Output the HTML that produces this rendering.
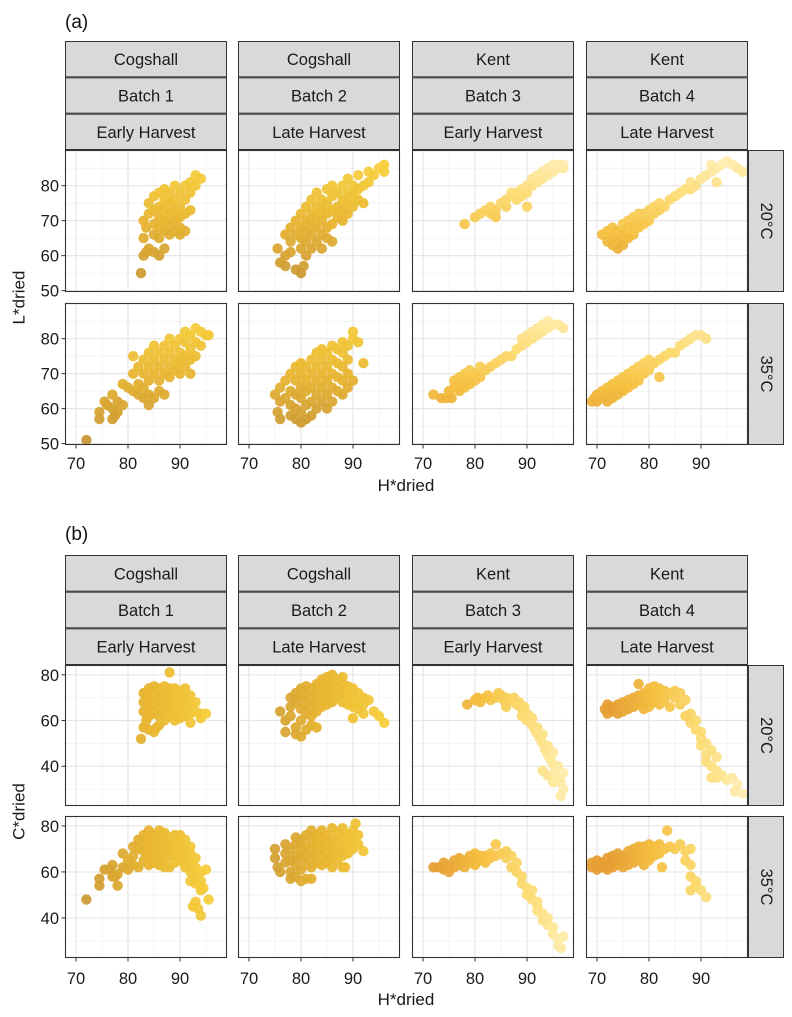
<!DOCTYPE html>
<html><head><meta charset="utf-8">
<style>
html,body{margin:0;padding:0;background:#fff;}
svg{display:block;font-family:"Liberation Sans",Arial,sans-serif;}
</style></head>
<body>
<svg id="chart" width="792" height="1017" viewBox="0 0 792 1017" xmlns="http://www.w3.org/2000/svg"></svg>
<script>
// ---------- data ----------
const cultivars = ["Cogshall","Cogshall","Kent","Kent"];
const batches = ["Batch 1","Batch 2","Batch 3","Batch 4"];
const harvests = ["Early Harvest","Late Harvest","Early Harvest","Late Harvest"];
const temps = ["20°C","35°C"];
const xTicks = [70,80,90];
const xMinor = [75,85,95];
const lTicks = [50,60,70,80];
const lMajorGrid = [50,60,70,80,90];
const lMinor = [55,65,75,85];
const cTicks = [40,60,80];
const cMinor = [30,50,70];

// (a) L*dried vs H*dried, 20°C
const a20_1 = [[82.5,55],[83,60],[83.5,61],[84,62],[85,61],[86,60],[87,62],[83,65],[83.5,68],[83,70],[84,72],[84,75],[85,66],[85,69],[85,73],[85,77],[86,65],[86,68],[86,71],[86,74],[86,78],[87,67],[87,70],[87,73],[87,76],[87,79],[88,66],[88,69],[88,72],[88,75],[88,78],[89,67],[89,70],[89,73],[89,76],[89,80],[90,66],[90,68],[90,71],[90,74],[90,78],[91,67],[91,72],[91,76],[91,80],[92,73],[92,78],[92,81],[93,80],[93,83],[94,82]];
const a20_2 = [[75.5,62],[76,58],[77,57],[77,60],[78,61],[79,56],[80,55],[80.5,57],[78,64],[77,66],[78,68],[79,66],[79,70],[80,62],[80,65],[80,68],[80,72],[81,60],[81,64],[81,67],[81,70],[81,74],[82,62],[82,66],[82,69],[82,72],[82,76],[83,64],[83,68],[83,71],[83,74],[83,78],[84,66],[84,70],[84,73],[84,76],[85,65],[85,68],[85,72],[85,75],[85,79],[86,69],[86,73],[86,77],[86,80],[87,71],[87,74],[87,78],[88,70],[88,73],[88,76],[88,80],[89,72],[89,75],[89,78],[89,82],[90,74],[90,77],[90,80],[91,76],[91,79],[91,83],[92,75],[92,80],[93,81],[93,84],[94,83],[95,85],[96,86],[96,84],[84,62],[86,64]];
const a20_3 = [[78,69],[80,71],[81,72],[82,73],[83,72],[83,74],[84,71],[84,73],[85,75],[86,74],[86,76],[87,77],[88,78],[88,76],[89,79],[90,78],[90,80],[90,74],[91,80],[91,82],[92,81],[92,83],[93,82],[93,84],[94,83],[94,85],[95,84],[95,86],[96,85],[96,86],[97,85],[97,86],[89,77],[87,78]];
const a20_4 = [[71,66],[72,64],[72,67],[73,63],[73,65],[73,68],[74,62],[74,64],[74,67],[75,63],[75,66],[75,69],[76,65],[76,68],[76,70],[77,66],[77,69],[77,71],[78,68],[78,70],[78,72],[79,69],[79,72],[80,70],[80,73],[81,72],[81,74],[82,73],[82,75],[83,74],[84,76],[85,77],[86,78],[87,79],[88,79],[88,81],[89,80],[90,82],[91,83],[92,84],[92,86],[93,85],[93,81],[94,86],[95,87],[96,86],[97,85],[98,84]];
// (a) 35°C
const a35_1 = [[72,51],[74.5,57],[74.5,59],[75.5,62],[76,61],[77,57],[77,60],[77.5,58],[78,59],[78,62],[79,61],[77,64],[79,67],[80,66],[81,65],[82,64],[82,67],[83,63],[83,66],[84,61],[84,64],[85,63],[86,65],[87,64],[81,70],[81,75],[82,72],[83,70],[83,74],[84,68],[84,72],[84,76],[85,70],[85,74],[85,78],[86,68],[86,72],[86,76],[87,70],[87,74],[87,78],[88,69],[88,72],[88,76],[88,80],[89,71],[89,74],[89,78],[90,70],[90,73],[90,76],[90,80],[91,72],[91,75],[91,79],[91,82],[92,74],[92,77],[92,81],[93,79],[93,83],[94,78],[94,82],[95,81],[95.5,81],[92,70],[93,75]];
const a35_2 = [[75,64],[75.5,59],[76,57],[76,62],[76,66],[77,63],[77,68],[78,58],[78,61],[78,65],[78,70],[79,57],[79,60],[79,64],[79,68],[79,72],[80,56],[80,59],[80,63],[80,66],[80,70],[80,73],[81,57],[81,61],[81,65],[81,68],[81,72],[82,58],[82,62],[82,66],[82,70],[82,74],[83,60],[83,64],[83,68],[83,72],[83,76],[84,62],[84,66],[84,70],[84,74],[84,77],[85,60],[85,64],[85,68],[85,72],[85,76],[86,62],[86,66],[86,70],[86,74],[86,78],[87,65],[87,69],[87,73],[87,77],[88,64],[88,68],[88,72],[88,76],[88,79],[89,66],[89,70],[89,74],[89,78],[90,82],[90,80],[91,79],[92,73],[90,68]];
const a35_3 = [[72,64],[73.5,63],[74.5,63],[75,65],[75.5,63],[76,66],[76,68],[77,65],[77,67],[77,69],[78,66],[78,68],[78,70],[79,67],[79,69],[79,71],[80,68],[80,70],[81,69],[81,72],[82,71],[83,72],[84,73],[85,74],[86,75],[87,75],[88,77],[89,78],[89,80],[90,79],[90,81],[91,80],[91,82],[92,81],[92,83],[93,82],[93,84],[94,83],[94,85],[95,84],[96,84],[97,83]];
const a35_4 = [[69,62],[69.5,63],[70,62],[70,64],[71,63],[71,65],[72,62],[72,64],[72,66],[73,63],[73,65],[73,67],[74,64],[74,66],[74,68],[75,65],[75,67],[75,69],[76,66],[76,68],[76,70],[77,67],[77,69],[77,71],[78,68],[78,70],[78,72],[79,70],[79,73],[80,71],[80,74],[81,73],[82,74],[83,75],[82,69],[84,76],[85,76],[86,78],[87,79],[88,80],[89,81],[90,81],[91,80]];
// (b) C*dried vs H*dried, 20°C
const b20_1 = [[82.5,52],[83,57],[83.5,60],[84,56],[85,55],[85.5,57],[86,58],[87,60],[83,64],[83,68],[83,72],[84,62],[84,66],[84,70],[84,74],[85,63],[85,67],[85,71],[85,75],[86,62],[86,66],[86,70],[86,74],[87,64],[87,68],[87,72],[87,75],[88,62],[88,66],[88,70],[88,74],[88,81],[89,63],[89,67],[89,71],[89,74],[90,61],[90,65],[90,69],[90,73],[91,62],[91,66],[91,70],[91,74],[92,63],[92,67],[92,71],[93,64],[93,68],[94,63],[94,61],[95,63],[92,59],[89,60]];
const b20_2 = [[76,64],[77,60],[77,55],[78,62],[79,57],[79,54],[80,53],[80,60],[81,56],[82,58],[83,57],[78,66],[78,70],[79,68],[79,72],[80,65],[80,70],[80,74],[81,63],[81,67],[81,71],[81,75],[82,62],[82,66],[82,70],[82,74],[83,64],[83,68],[83,72],[83,76],[84,66],[84,70],[84,74],[84,78],[85,67],[85,71],[85,75],[85,79],[86,68],[86,72],[86,76],[86,80],[87,70],[87,74],[87,78],[88,68],[88,72],[88,76],[88,79],[89,67],[89,71],[89,75],[90,66],[90,70],[90,74],[91,65],[91,68],[91,72],[92,67],[92,70],[93,69],[94,64],[95,62],[96,59],[92,63],[90,61]];
const b20_3 = [[78.5,67],[80,69],[80.5,70],[81,68],[82,70],[82.5,71],[83,69],[84,70],[84.5,72],[85,71],[85.5,69],[86,70],[86,66],[87,69],[87.5,70],[88,67],[88.5,68],[89,65],[89,62],[89.5,66],[90,63],[90,60],[90.5,62],[91,58],[91,61],[91.5,56],[92,54],[92,57],[92.5,52],[93,50],[93,54],[93.5,47],[94,49],[94,45],[94.5,43],[95,46],[95,41],[95.5,38],[93,38],[96,35],[96,40],[96.5,33],[97,37],[97,30],[96.5,27],[95,33],[94,36]];
const b20_4 = [[71.5,65],[72,63],[72,67],[73,64],[73,66],[74,63],[74,67],[75,64],[75,68],[76,65],[76,69],[77,66],[77,70],[78,67],[78,71],[78,76],[79,65],[79,68],[79,72],[80,66],[80,70],[80,74],[81,68],[81,72],[81,75],[82,67],[82,71],[82,74],[83,69],[83,73],[84,72],[84,66],[85,73],[85,70],[86,72],[86,67],[87,69],[87,62],[88,63],[88,59],[89,56],[89,60],[90,52],[90,55],[90,49],[91,45],[91,50],[91,42],[92,47],[92,40],[93,38],[93,44],[94,36],[95,34],[96,35],[97,32],[96.5,29],[98,28],[92,35],[93,35]];
// (b) 35°C
const b35_1 = [[72,48],[74.5,54],[74.5,57],[75.5,61],[76.5,61],[77,58],[77.5,58],[78,54],[78,59],[77,63],[79,62],[79,68],[80,65],[80,61],[81,63],[82,62],[81,67],[81,71],[82,70],[82,74],[83,65],[83,69],[83,73],[83,76],[84,63],[84,67],[84,71],[84,75],[84,78],[85,64],[85,68],[85,72],[85,76],[86,63],[86,66],[86,70],[86,74],[86,78],[87,62],[87,65],[87,69],[87,73],[87,77],[88,62],[88,67],[88,71],[88,75],[89,64],[89,68],[89,72],[89,76],[90,65],[90,69],[90,73],[90,76],[91,62],[91,66],[91,70],[91,74],[92,60],[92,64],[92,68],[92,71],[93,55],[93,58],[93,62],[93,66],[94,52],[94,56],[94,60],[92,56],[92.5,45],[93,47],[93.5,44],[94,41],[95,61],[95.5,48],[94.5,53]];
const b35_2 = [[75,66],[75,70],[75.5,62],[76,60],[77,64],[77,68],[77,72],[78,57],[78,60],[78,65],[78,70],[79,58],[79,63],[79,67],[79,72],[79,75],[80,56],[80,61],[80,66],[80,70],[80,74],[81,57],[81,63],[81,67],[81,71],[81,76],[82,57],[82,62],[82,66],[82,70],[82,74],[82,78],[83,64],[83,68],[83,72],[83,76],[84,63],[84,67],[84,71],[84,75],[84,78],[85,64],[85,68],[85,72],[85,76],[86,62],[86,66],[86,70],[86,74],[86,79],[87,65],[87,69],[87,73],[87,77],[88,62],[88,67],[88,71],[88,75],[88,79],[89,68],[89,72],[89,76],[90,70],[90,74],[90,78],[90.5,81],[91,72],[91,76],[92,69],[88.5,62]];
const b35_3 = [[72,62],[73,62],[74,61],[74,64],[75,63],[75,60],[76,62],[76,65],[77,63],[77,66],[78,62],[78,65],[79,64],[79,67],[80,63],[80,66],[80,68],[81,65],[81,67],[82,64],[82,67],[83,66],[83,68],[84,72],[84,67],[85,68],[86,66],[86,69],[87,67],[87,62],[88,64],[88,60],[89,58],[89,55],[90,53],[90,50],[91,48],[91,52],[92,45],[92,43],[93,42],[93,39],[94,40],[94,37],[95,36],[95,33],[96,31],[96,28],[97,32],[96.5,27],[92,47]];
const b35_4 = [[69,62],[69,64],[70,61],[70,65],[71,62],[71,64],[72,61],[72,63],[72,66],[73,62],[73,64],[73,67],[74,63],[74,65],[74,68],[75,62],[75,64],[75,67],[76,63],[76,66],[76,69],[77,64],[77,67],[77,70],[78,65],[78,68],[78,71],[79,63],[79,67],[79,71],[80,65],[80,69],[80,72],[81,67],[81,71],[82,68],[82,72],[82.5,62],[83,70],[83.5,78],[84,71],[85,70],[86,72],[87,69],[87,65],[88,63],[88,70],[88,58],[89,56],[88,52],[89,54],[90,52],[91,49]];

// ---------- layout ----------
const NS = "http://www.w3.org/2000/svg";
const svg = document.getElementById("chart");
const colX = [65,238,412,586];
const panelW = 162;
const xDom = [67.88, 99.04];
function mk(tag, attrs, parent){
  const e = document.createElementNS(NS, tag);
  for (const k in attrs) e.setAttribute(k, attrs[k]);
  (parent||svg).appendChild(e);
  return e;
}
function xScale(v, c){ return colX[c] + (v - xDom[0]) / (xDom[1]-xDom[0]) * panelW; }
function lerp(a,b,t){return a+(b-a)*t;}
const stopsCog = [[200,150,50],[232,180,45],[248,210,60]];
const stopsKent = [[230,158,52],[244,190,60],[252,218,110],[255,238,178]];
function colorAt(stops,t){
  t=Math.max(0,Math.min(1,t));
  const s=t*(stops.length-1); const i=Math.min(stops.length-2,Math.floor(s)); const f=s-i;
  const c=stops[i].map((v,k)=>Math.round(lerp(v,stops[i+1][k],f)));
  return `rgb(${c[0]},${c[1]},${c[2]})`;
}

const blocks = [
  {label:"(a)", labelY:28, stripTop:41, rows:[[150,292],[303,445]], yDom:[49.6,90.2], yTicks:lTicks, yMajor:lMajorGrid, yMinor:lMinor,
   yTitle:"L*dried", tickY:469, titleY:491, data:[[a20_1,a20_2,a20_3,a20_4],[a35_1,a35_2,a35_3,a35_4]], mode:"L"},
  {label:"(b)", labelY:540, stripTop:555, rows:[[665,806],[816,958]], yDom:[22.6,84.3], yTicks:cTicks, yMajor:cTicks, yMinor:cMinor,
   yTitle:"C*dried", tickY:984, titleY:1005, data:[[b20_1,b20_2,b20_3,b20_4],[b35_1,b35_2,b35_3,b35_4]], mode:"C"}
];

blocks.forEach((B, bi) => {
  const g = mk("g", {});
  
  
  const lab = mk("text", {x:65, y:B.labelY, "font-size":19, fill:"#111"}, g);
  lab.textContent = B.label;
  
  

  const stripH = (B.rows[0][0] - B.stripTop)/3;
  for (let c=0;c<4;c++){
    const texts=[cultivars[c],batches[c],harvests[c]];
    for (let s=0;s<3;s++){
      const y0=B.stripTop+s*stripH;
      const r=mk("rect",{x:colX[c]+0.5,y:y0+0.5,width:panelW-1,height:stripH-1,fill:"#d9d9d9",stroke:"#333","stroke-width":1},g);
      
      
      const t=mk("text",{x:colX[c]+panelW/2,y:y0+stripH/2+6,"font-size":16.5,"text-anchor":"middle",fill:"#1a1a1a"},g);
      t.textContent=texts[s];
      
      
    }
  }
  B.rows.forEach((row, ri) => {
    const [top,bot]=row;
    const yS = v => bot - (v - B.yDom[0])/(B.yDom[1]-B.yDom[0])*(bot-top);
    const rs=mk("rect",{x:748.5,y:top+0.5,width:35,height:bot-top-1,fill:"#d9d9d9",stroke:"#333","stroke-width":1},g);
    
    
    const cy=(top+bot)/2;
    const rt=mk("text",{x:766,y:cy,"font-size":16.5,"text-anchor":"middle","dominant-baseline":"central",fill:"#1a1a1a",transform:`rotate(90 766 ${cy})`},g);
    rt.textContent=temps[ri];
    
    

    for (let c=0;c<4;c++){
      const pg=mk("g",{},g);
      
      
      const x0=colX[c], x1=colX[c]+panelW;
      mk("rect",{x:x0,y:top,width:panelW,height:bot-top,fill:"#fff"},pg);
      B.yMinor.forEach(v=>{const y=yS(v); if(y>top&&y<bot) mk("line",{x1:x0,x2:x1,y1:y,y2:y,stroke:"#f2f2f2","stroke-width":0.8},pg);});
      xMinor.forEach(v=>{const x=xScale(v,c); if(x>x0&&x<x1) mk("line",{x1:x,x2:x,y1:top,y2:bot,stroke:"#f2f2f2","stroke-width":0.8},pg);});
      B.yMajor.forEach(v=>{const y=yS(v); if(y>top&&y<bot) mk("line",{x1:x0,x2:x1,y1:y,y2:y,stroke:"#e6e6e6","stroke-width":1.2},pg);});
      xTicks.forEach(v=>{const x=xScale(v,c); mk("line",{x1:x,x2:x,y1:top,y2:bot,stroke:"#e6e6e6","stroke-width":1.2},pg);});
      const pts=B.data[ri][c];
      const kent = c>=2;
      pts.forEach(p=>{
        let t;
        if (B.mode==="L") t=(p[1]-56)/31; else t=(p[0]-73)/25;
        const col = kent ? colorAt(stopsKent, t) : colorAt(stopsCog, t*0.9+0.1);
        const dot=mk("circle",{cx:xScale(p[0],c).toFixed(1),cy:yS(p[1]).toFixed(1),r:5.2,fill:col,"fill-opacity":0.93},pg);
        
        
      });
      const br=mk("rect",{x:x0+0.5,y:top+0.5,width:panelW-1,height:bot-top-1,fill:"none",stroke:"#333","stroke-width":1.1},pg);
      
      
      if (ri===1){
        xTicks.forEach(v=>{
          const x=xScale(v,c);
          mk("line",{x1:x,x2:x,y1:bot,y2:bot+3.5,stroke:"#333","stroke-width":1},pg);
          const tl=mk("text",{x:x,y:B.tickY,"font-size":16.5,"text-anchor":"middle",fill:"#1a1a1a"},pg);
          tl.textContent=v;
          
          
        });
      }
    }
    B.yTicks.forEach(v=>{
      const y=yS(v);
      mk("line",{x1:61.5,x2:65,y1:y,y2:y,stroke:"#333","stroke-width":1},g);
      const tl=mk("text",{x:59,y:y+6,"font-size":16.5,"text-anchor":"end",fill:"#1a1a1a"},g);
      tl.textContent=v;
      
      
    });
  });
  const xt=mk("text",{x:406,y:B.titleY,"font-size":17,"text-anchor":"middle",fill:"#1a1a1a"},g);
  xt.textContent="H*dried";
  
  
  const ymid=(B.rows[0][0]+B.rows[1][1])/2;
  const yt=mk("text",{x:19,y:ymid,"font-size":17,"text-anchor":"middle","dominant-baseline":"central",fill:"#1a1a1a",transform:`rotate(-90 19 ${ymid})`},g);
  yt.textContent=B.yTitle;
  
  
});
</script>
</body></html>
